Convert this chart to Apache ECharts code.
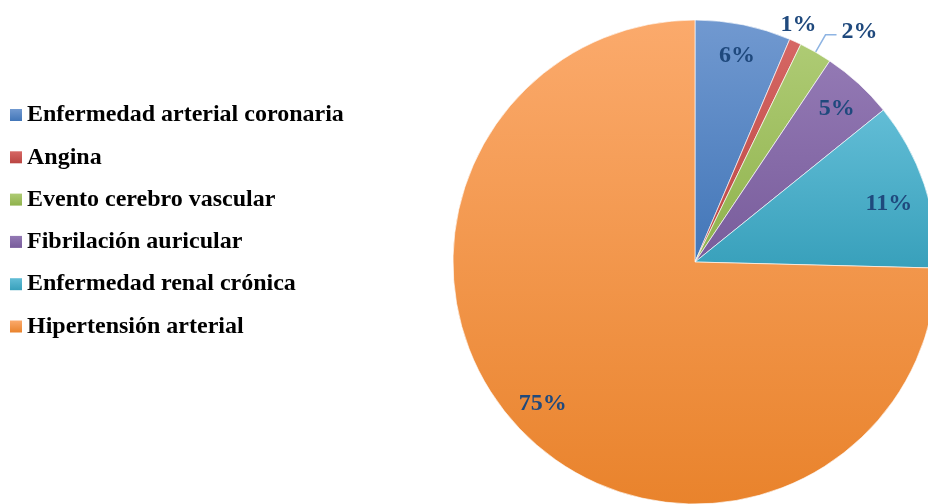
<!DOCTYPE html>
<html><head><meta charset="utf-8">
<script src="https://cdn.jsdelivr.net/npm/echarts@6/dist/echarts.min.js"></script>
<style>html,body{margin:0;padding:0;background:#fff}#c{width:928px;height:504px}</style>
</head><body><div id="c"></div>
<script>
const categories = ['Enfermedad arterial coronaria','Angina','Evento cerebro vascular','Fibrilación auricular','Enfermedad renal crónica','Hipertensión arterial'];
const values = [6.4, 0.8, 2.2, 4.8, 11.2, 74.6];
const topColors = ['#7199D0','#D66764','#AECB74','#9379B4','#62BDD6','#FBAA6C'];
const bottomColors = ['#4276B8','#BA4542','#8FB24C','#785C9B','#38A0BB','#E9832C'];

const FONT = '"Liberation Serif","Times New Roman",serif';
const LABEL_COLOR = '#1F497D';

function grad(i){
  return new echarts.graphic.LinearGradient(0,0,0,1,[
    {offset:0,color:topColors[i]},{offset:1,color:bottomColors[i]}
  ]);
}

const mainData = categories.map((n,i)=>({name:n,value:values[i],itemStyle:{color:grad(i)}}));
const labelData = categories.map((n,i)=>{
  const d = {name:n,value:values[i]};
  if (i===1){
    d.label = {position:'outside'};
    d.labelLine = {show:false,length:22,length2:0};
  } else if (i===2){
    d.label = {position:'outside'};
    d.labelLine = {show:true,length:20,length2:11,lineStyle:{color:'#8EB4E3',width:1.5}};
  }
  return d;
});
// small label nudges to match the reference placement
const labelNudge = [[0,0],[-29,3],[0,-3],[0,2],[-5,9],[-2,-5]];

const chart = echarts.init(document.getElementById('c'));
chart.setOption({
  animation:false,
  backgroundColor:'#fff',
  legend:{
    orient:'vertical',left:5,top:98,
    itemWidth:12,itemHeight:12,itemGap:18.3,
    icon:'rect',selectedMode:false,
    itemStyle:{borderWidth:0},
    data:categories,
    textStyle:{fontFamily:FONT,fontWeight:'bold',fontSize:24,color:'#000',lineHeight:24}
  },
  series:[
    {
      type:'pie',center:[695,262],radius:[0,242],startAngle:90,clockwise:true,
      silent:true,
      itemStyle:{borderColor:'rgba(255,255,255,0.8)',borderWidth:0.8},
      label:{show:false},labelLine:{show:false},
      data:mainData
    },
    {
      type:'pie',center:[695,262],radius:[172,242],startAngle:90,clockwise:true,
      silent:true,avoidLabelOverlap:false,percentPrecision:0,
      itemStyle:{color:'rgba(0,0,0,0)'},
      label:{show:true,position:'inside',formatter:'{d}%',fontFamily:FONT,fontWeight:'bold',fontSize:24,color:LABEL_COLOR},
      labelLine:{show:false},
      labelLayout:function(p){ const n = labelNudge[p.dataIndex]; return {dx:n[0],dy:n[1]}; },
      data:labelData
    }
  ]
});
</script></body></html>
